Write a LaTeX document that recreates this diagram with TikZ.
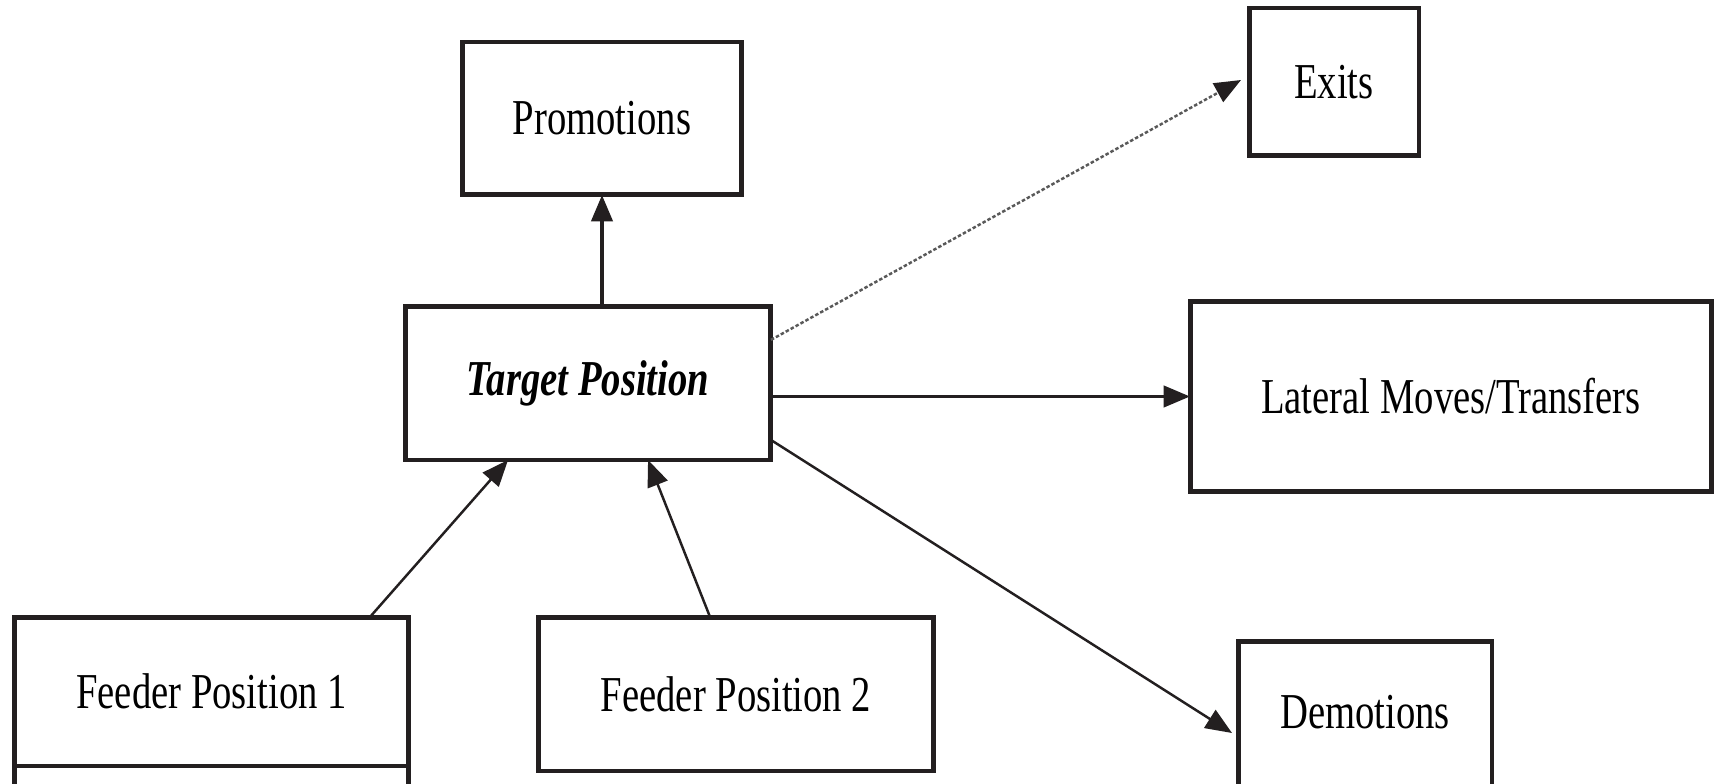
\documentclass[tikz,border=0pt]{standalone}
\usepackage{fontspec}
\setmainfont{Liberation Serif}
\usepackage{graphicx}
\usetikzlibrary{arrows.meta,calc}
\definecolor{bc}{HTML}{231F20}
\newcommand{\lbl}[1]{\scalebox{1}[1.3]{#1}}
\begin{document}
\begin{tikzpicture}[x=0.02cm,y=-0.02cm,
  box/.style={draw=bc,line width=2.83pt,inner sep=0pt,outer sep=0pt,
    font=\fontsize{22}{26}\selectfont,text=black},
  tip/.style={-{Triangle[length=15pt,width=12pt,color=bc]}},
  arr/.style={draw=bc,line width=2.2pt,tip},
  darr/.style={draw=bc,line width=1.4pt,tip},
  dotarr/.style={draw=black!65,line width=1.4pt,dash pattern=on 2pt off 1.2pt,tip}]
\fill[white] (0,0) rectangle (1715,784);
\useasboundingbox (0,0) rectangle (1715,784);

\node[box,minimum width=5.6cm,minimum height=3.06cm] (promo) at (602,118.5) {\lbl{Promotions}};
\node[box,minimum width=7.32cm,minimum height=3.08cm] (target) at (588,383) {\lbl{\bfseries\itshape Target Position}};
\node[box,minimum width=3.4cm,minimum height=2.96cm] (exits) at (1334,82) {\lbl{Exits}};
\node[box,minimum width=10.44cm,minimum height=3.82cm] (lateral) at (1451,396.5) {\lbl{Lateral Moves/Transfers}};
\node[box,minimum width=7.9cm,minimum height=2.98cm] (f1) at (211.5,691.5) {\lbl{Feeder Position 1}};
\node[box,minimum width=7.92cm,minimum height=3.08cm] (f2) at (736,694) {\lbl{Feeder Position 2}};
\node[box,draw=none,minimum width=5.08cm,minimum height=2.86cm] (demot) at (1365,712.5) {\lbl{Demotions}};

% open-bottom boxes cut by the picture edge
\draw[bc,line width=2.83pt] (demot.south west) |- (demot.north) -| (demot.south east);
\draw[bc,line width=2.83pt] (f1.south west) -- ++(0,20);
\draw[bc,line width=2.83pt] (f1.south east) -- ++(0,20);

\coordinate (exittip) at ($(exits.west)+(-8,-2)$);
\coordinate (demtip) at ($(demot.north west)+(-6,92)$);

\draw[arr] (target.north -| promo.south) -- (promo.south);
\draw[arr] (lateral.west -| target.east) -- (lateral.west);
\draw[dotarr] ($(target.north east)!0.22!(target.south east)$) -- (exittip);
\draw[darr] ($(target.north east)!0.87!(target.south east)$) -- (demtip);
\draw[darr] ($(f1.north east)+(-39,0)$) -- ($(target.south west)+(103,0)$);
\draw[darr] ($(f2.north west)+(172,0)$) -- ($(target.south west)+(243,0)$);
\end{tikzpicture}
\end{document}
